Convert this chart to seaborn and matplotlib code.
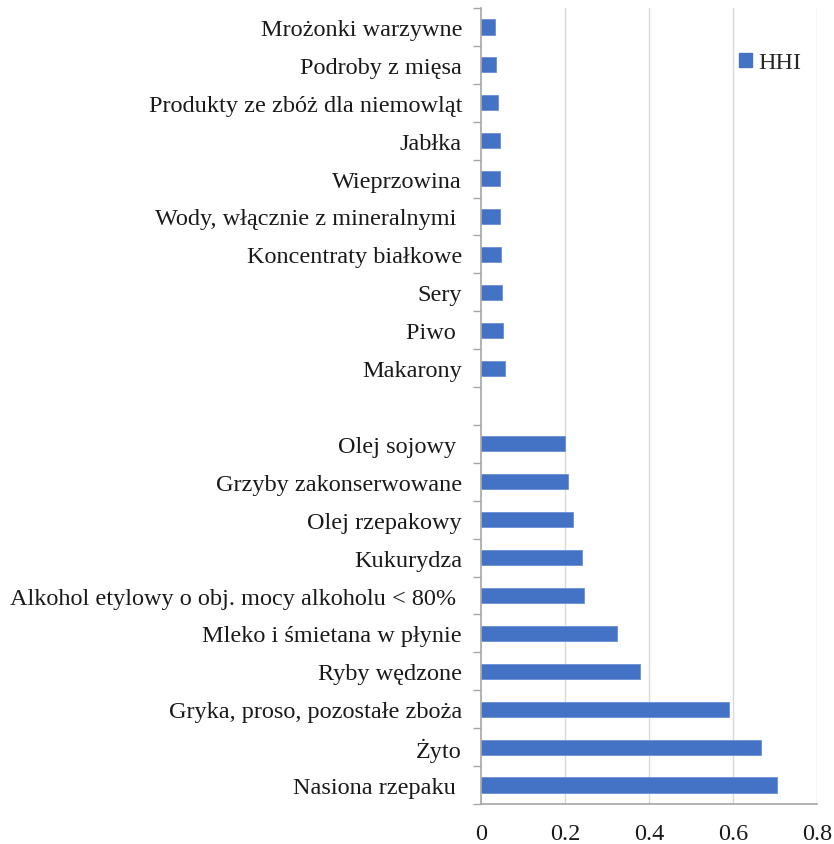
import matplotlib
matplotlib.use("Agg")
import matplotlib.pyplot as plt
import seaborn as sns
import pandas as pd
import numpy as np
from matplotlib.patches import Patch

categories = [
    "Mrożonki warzywne",
    "Podroby z mięsa",
    "Produkty ze zbóż dla niemowląt",
    "Jabłka",
    "Wieprzowina",
    "Wody, włącznie z mineralnymi ",
    "Koncentraty białkowe",
    "Sery",
    "Piwo ",
    "Makarony",
    "Olej sojowy ",
    "Grzyby zakonserwowane",
    "Olej rzepakowy",
    "Kukurydza",
    "Alkohol etylowy o obj. mocy alkoholu < 80% ",
    "Mleko i śmietana w płynie",
    "Ryby wędzone",
    "Gryka, proso, pozostałe zboża",
    "Żyto",
    "Nasiona rzepaku ",
]
hhi = [0.031, 0.035, 0.040, 0.043, 0.044, 0.045, 0.047, 0.049, 0.052, 0.057,
       0.199, 0.206, 0.217, 0.239, 0.245, 0.322, 0.377, 0.589, 0.667, 0.703]
gap_label = "\u2007"
order = categories[:10] + [gap_label] + categories[10:]
xticks = [0, 0.2, 0.4, 0.6, 0.8]
xticklabels = ["0", "0.2", "0.4", "0.6", "0.8"]

sns.set_style("white")
plt.rcParams["font.family"] = ["Liberation Serif", "DejaVu Serif"]
plt.rcParams["font.size"] = 17.5

df = pd.DataFrame({"cat": categories, "HHI": hhi})

fig = plt.figure(figsize=(8.34, 8.45), dpi=100)
ax = fig.add_axes([481.5 / 834, 1 - 805 / 845, (817.3 - 481.5) / 834, 796 / 845])

sns.barplot(data=df, y="cat", x="HHI", order=order, orient="h",
            color="#4472C4", saturation=1, width=0.4, ax=ax,
            edgecolor="#6A8FD6", linewidth=0.6)

ax.set_xlim(0, 0.8)
ax.set_ylim(len(order) - 0.5, -0.5)
ax.set_xticks(xticks)
ax.set_xticklabels(xticklabels, fontsize=17.5, color="#1a1a1a")
ax.set_xlabel("")
ax.set_ylabel("")
ax.set_yticks(np.arange(len(order)))
ax.set_yticklabels(order)
ax.tick_params(axis="y", length=0, pad=14, labelsize=17.5, labelcolor="#1a1a1a")
ax.tick_params(axis="x", length=6, width=1, color="#A6A6A6", pad=8)
ax.set_yticks(np.arange(len(order) + 1) - 0.5, minor=True)
ax.tick_params(axis="y", which="minor", length=6, width=1, color="#A6A6A6", left=True)

for x in xticks[1:]:
    ax.axvline(x, color="#D9D9D9", linewidth=1, zorder=0)

for s in ["top", "right"]:
    ax.spines[s].set_visible(False)
for s in ["left", "bottom"]:
    ax.spines[s].set_color("#A6A6A6")
    ax.spines[s].set_linewidth(1.2)

handle = Patch(facecolor="#4472C4", edgecolor="#4472C4")
ax.legend([handle], ["HHI"], loc="center left", bbox_to_anchor=(0.767, 0.931),
          frameon=False, fontsize=17.5, handlelength=0.55, handleheight=0.55,
          handletextpad=0.25, borderaxespad=0, borderpad=0)

fig.savefig("out.png", dpi=100)
